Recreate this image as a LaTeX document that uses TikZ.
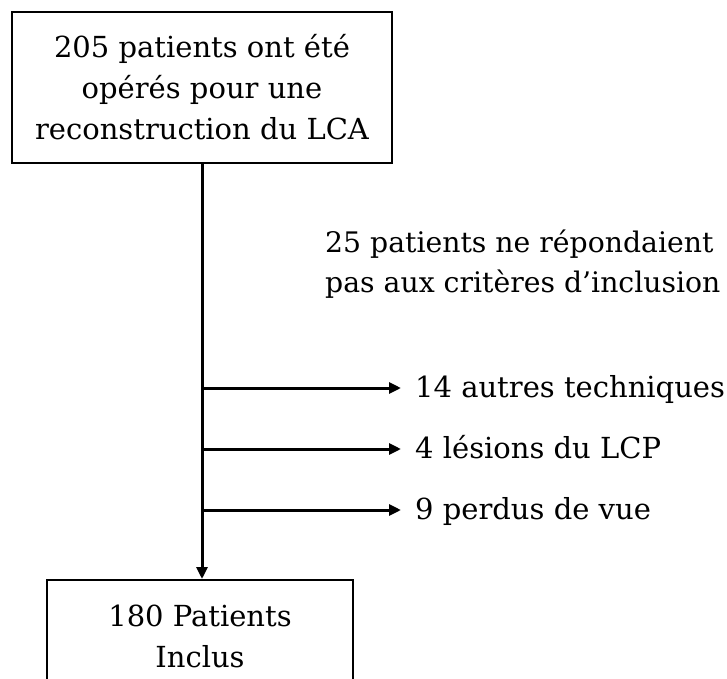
\documentclass[tikz,border=0pt]{standalone}
\usepackage{fontspec}
\setmainfont{DejaVu Serif}
\usetikzlibrary{arrows.meta}
\begin{document}
\begin{tikzpicture}[x=1bp,y=-1bp,
  every node/.style={font=\fontsize{29bp}{41bp}\selectfont},
  box/.style={draw=black, line width=2bp, align=center, inner sep=0pt},
  lbl/.style={inner sep=0pt, anchor=base west},
  arr/.style={line width=3bp, -{Triangle[length=12bp,width=11bp]}}]
\useasboundingbox (0,0) rectangle (727,679);
\clip (0,0) rectangle (727,679);
\node[box, minimum width=380bp, minimum height=151bp] (top) at (202,87.5)
  {205 patients ont été\\opérés pour une\\reconstruction du LCA};
\node[box, minimum width=306bp, minimum height=112bp, anchor=north] (bot) at (200,579)
  {180 Patients\\Inclus};
\node[lbl, align=left, font=\fontsize{28.3bp}{40bp}\selectfont] (crit) at (325,292)
  {25 patients ne répondaient\\pas aux critères d’inclusion};
\coordinate (j1) at (202,388);
\coordinate (j2) at (202,449);
\coordinate (j3) at (202,510);
\node[lbl] (t1) at (415,397) {14 autres techniques};
\node[lbl] (t2) at (415,458) {4 lésions du LCP};
\node[lbl] (t3) at (415,519) {9 perdus de vue};
\draw[arr] (top.south) -- (top.south |- bot.north);
\draw[arr, shorten >=14bp] (j1) -- (j1 -| t1.west);
\draw[arr, shorten >=14bp] (j2) -- (j2 -| t2.west);
\draw[arr, shorten >=14bp] (j3) -- (j3 -| t3.west);
\end{tikzpicture}
\end{document}
